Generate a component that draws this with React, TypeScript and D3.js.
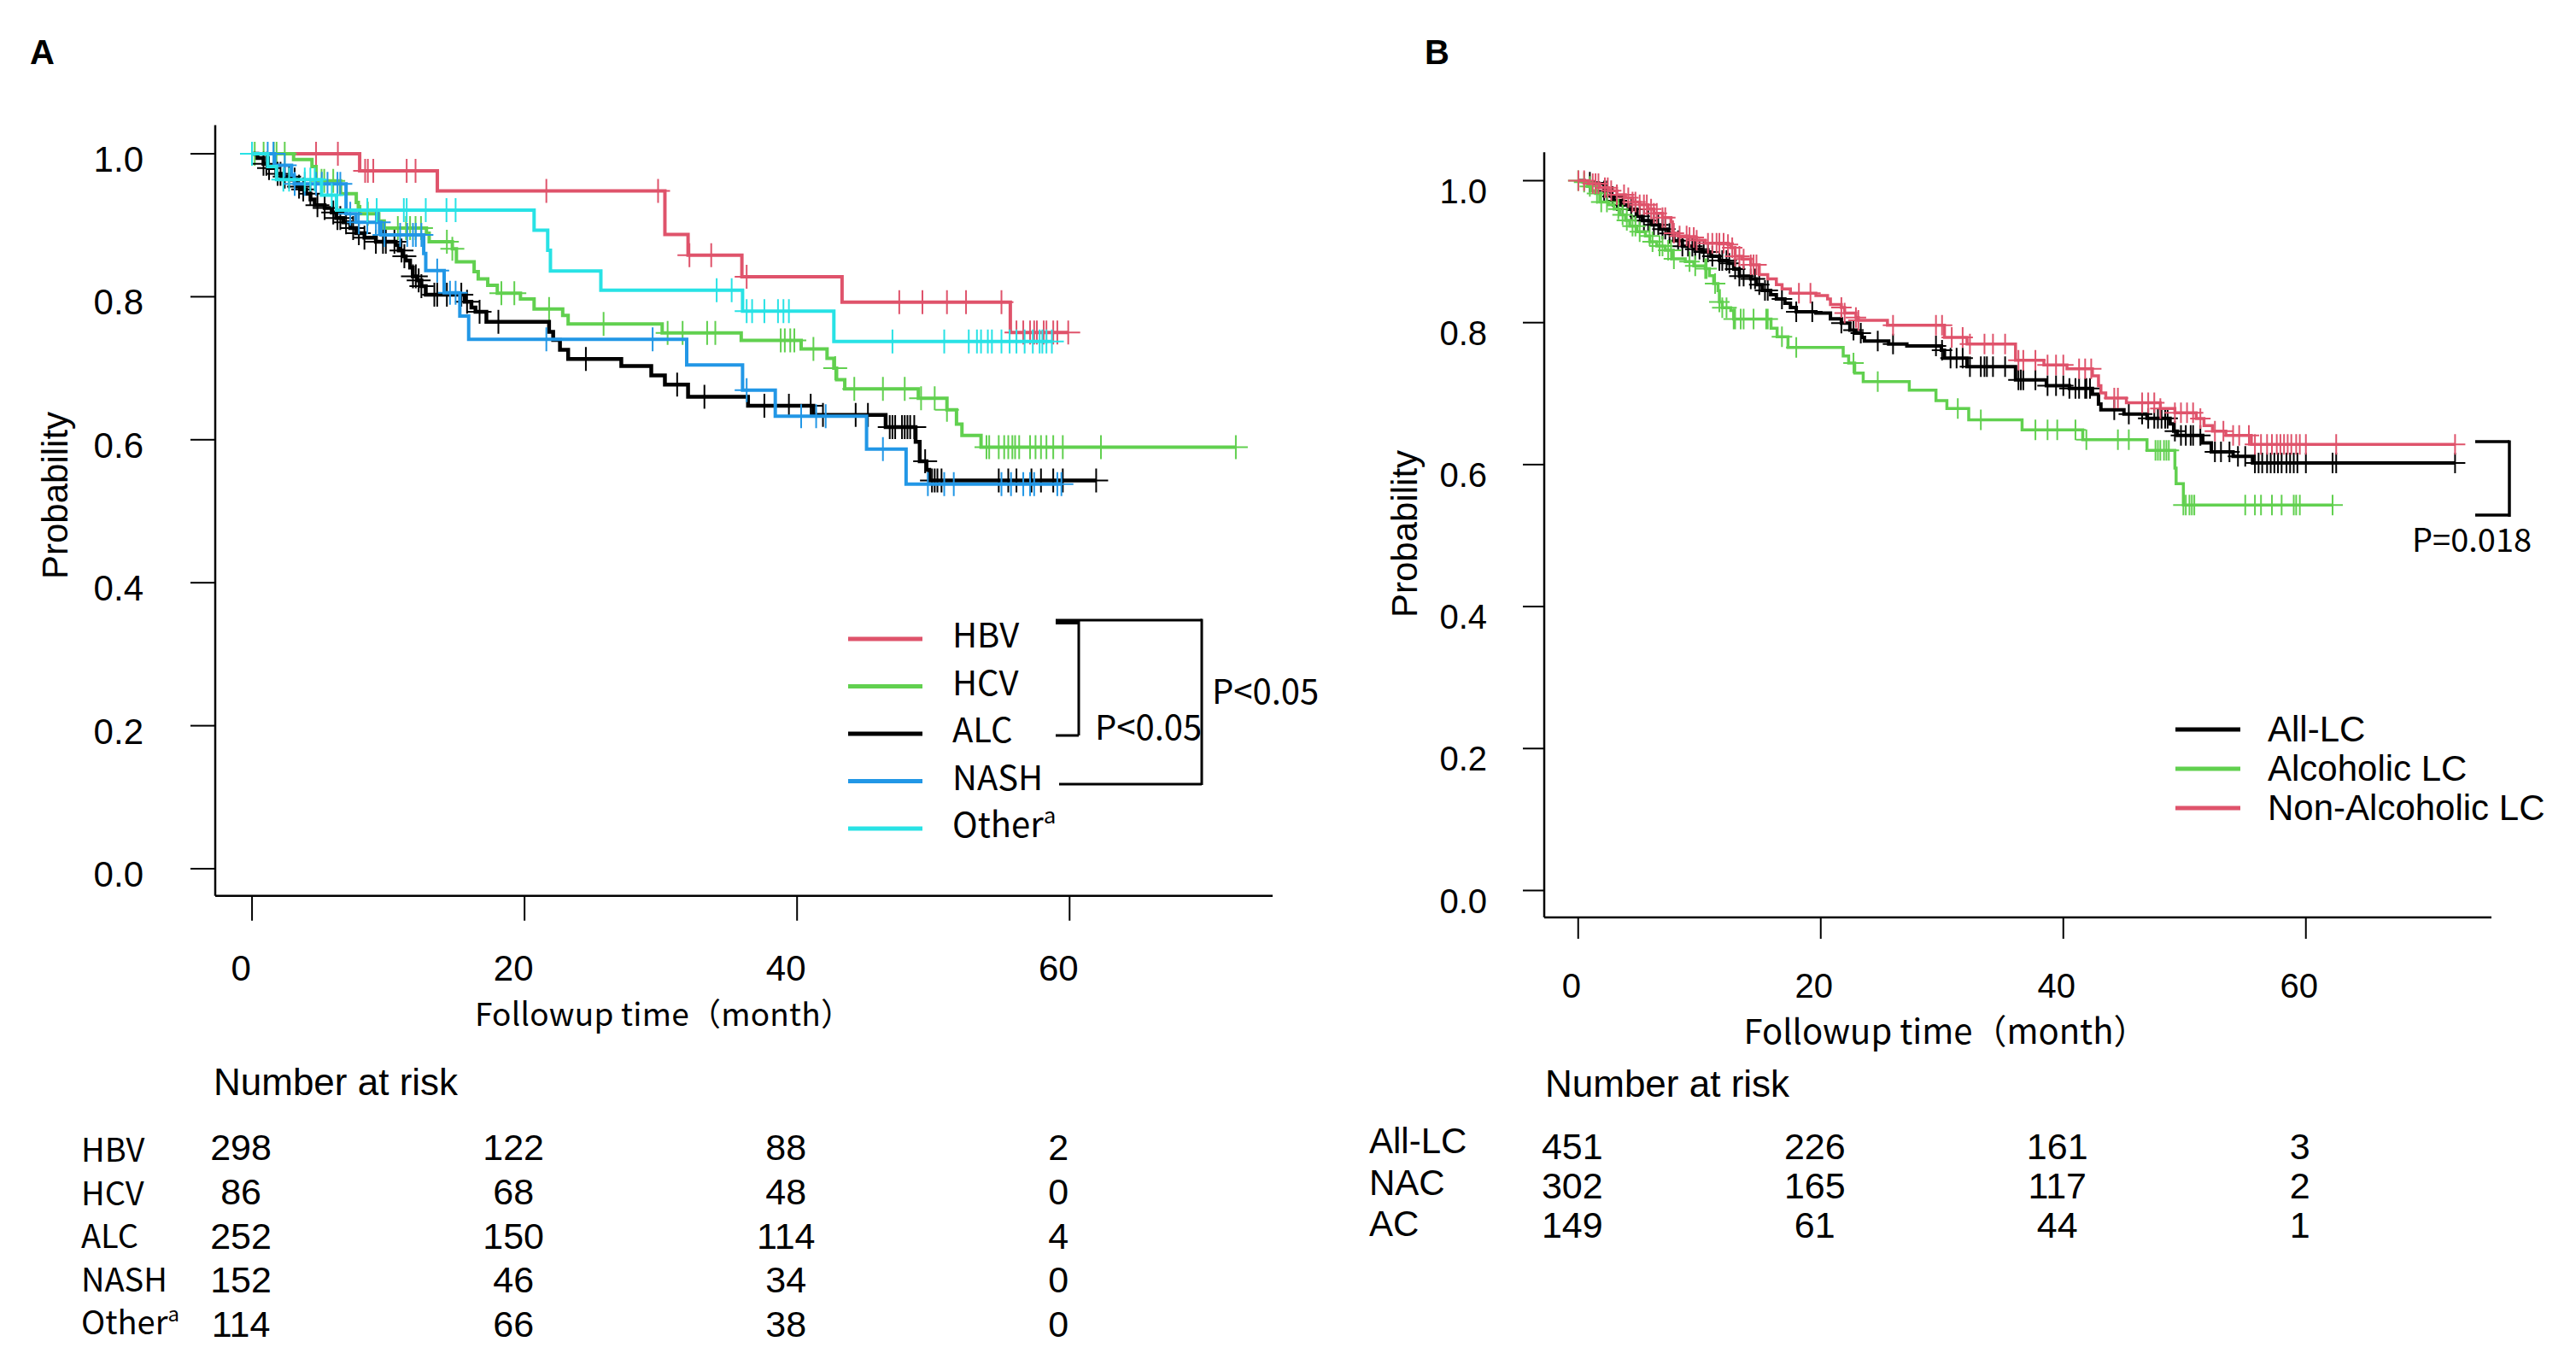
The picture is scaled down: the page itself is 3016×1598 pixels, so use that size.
import React from "react";
import * as d3 from "d3";

// ---- axis ticks ----
const monthTicks = [0, 20, 40, 60];
const probTicks = [0, 0.2, 0.4, 0.6, 0.8, 1.0];

// ---- Panel A: survival by etiology (event times, survival after each event, censor times) ----
const hbvTime = [0, 7.9, 13.6, 30.3, 32.0, 35.95, 43.3, 55.65];
const hbvSurv = [1, 0.976, 0.948, 0.887, 0.858, 0.828, 0.7925, 0.75];
const hbvCensor = [4.7, 6.3, 8.3, 8.5, 8.9, 11.35, 12.0, 21.6, 29.8, 32.1, 33.7, 36.3, 47.5, 49.2, 51.0, 52.4, 55.0, 56.1, 56.6, 57.1, 57.4, 57.6, 58.1, 58.3, 58.8, 59.1, 59.9];

const hcvTime = [0, 3.05, 4.4, 4.7, 6.5, 7.65, 7.8, 7.9, 9.3, 9.7, 12.8, 13.0, 14.7, 15.0, 16.3, 16.6, 17.3, 18.0, 19.7, 20.7, 22.8, 23.2, 30.1, 35.9, 40.3, 42.2, 42.7, 42.9, 43.5, 48.9, 51.0, 51.7, 52.1, 53.5];
const hcvSurv = [1, 0.992, 0.982, 0.962, 0.944, 0.932, 0.926, 0.916, 0.906, 0.896, 0.889, 0.877, 0.867, 0.849, 0.835, 0.825, 0.816, 0.805, 0.797, 0.783, 0.774, 0.762, 0.7495, 0.739, 0.727, 0.714, 0.7, 0.684, 0.671, 0.658, 0.642, 0.622, 0.606, 0.5895];
const hcvCensor = [0.2, 0.85, 1.6, 1.8, 2.4, 5.1, 5.3, 5.96, 8.5, 10.7, 11.3, 11.6, 12.0, 12.4, 14.3, 14.7, 18.3, 19.25, 21.8, 25.8, 30.5, 31.6, 33.4, 34.0, 38.8, 39.1, 39.5, 39.8, 41.2, 42.8, 44.2, 46.3, 47.9, 49.1, 50.1, 51.0, 53.9, 54.1, 54.8, 55.2, 55.5, 55.8, 56.0, 56.3, 57.1, 57.5, 57.9, 58.3, 58.8, 59.5, 62.3, 72.2];

const alcTime = [0, 0.4, 0.84, 1.15, 1.78, 2.19, 2.93, 3.24, 3.55, 3.97, 4.29, 4.6, 5.33, 5.85, 6.17, 6.69, 7.21, 7.63, 8.25, 9.09, 10.55, 10.76, 11.08, 11.28, 11.6, 11.8, 12.12, 12.43, 12.75, 15.6, 16.1, 16.4, 17.2, 21.8, 22.1, 22.6, 23.2, 27.1, 29.3, 30.3, 32.0, 36.4, 41.2, 46.5, 48.7, 49.0, 49.5, 49.7];
const alcSurv = [1, 0.994, 0.986, 0.98, 0.972, 0.968, 0.964, 0.954, 0.95, 0.944, 0.936, 0.928, 0.924, 0.918, 0.91, 0.904, 0.896, 0.889, 0.8825, 0.877, 0.8725, 0.8646, 0.8566, 0.8506, 0.8407, 0.8287, 0.8228, 0.8148, 0.8028, 0.7929, 0.785, 0.779, 0.765, 0.751, 0.7395, 0.7258, 0.713, 0.703, 0.69, 0.677, 0.66, 0.6475, 0.6347, 0.6178, 0.597, 0.57, 0.558, 0.543];
const alcCensor = [0.84, 1.05, 1.25, 1.88, 2.09, 2.4, 2.72, 3.13, 3.45, 3.76, 4.28, 4.8, 5.33, 5.96, 6.27, 6.48, 6.9, 7.42, 7.84, 8.25, 9.09, 9.61, 9.82, 10.45, 10.97, 11.18, 11.81, 12.02, 12.23, 12.43, 13.38, 13.59, 14.3, 15.36, 15.78, 16.7, 18.08, 24.5, 31.2, 33.2, 37.6, 39.4, 41.0, 41.9, 44.3, 45.2, 46.8, 47.0, 47.2, 47.7, 47.9, 48.1, 48.3, 48.6, 49.4, 49.9, 50.1, 50.3, 50.6, 54.8, 55.5, 56.1, 57.2, 57.9, 58.8, 59.5, 61.95];

const nashTime = [0, 1.67, 2.9, 3.1, 6.9, 7.63, 9.46, 12.6, 12.75, 14.1, 15.25, 15.9, 31.9, 36.0, 38.4, 45.1, 48.0];
const nashSurv = [1, 0.984, 0.97, 0.958, 0.916, 0.904, 0.8865, 0.8606, 0.8367, 0.8056, 0.773, 0.7404, 0.7047, 0.6694, 0.6328, 0.587, 0.5378];
const nashCensor = [0.0, 1.15, 1.57, 2.4, 3.13, 3.87, 4.7, 5.12, 5.54, 6.27, 6.48, 7.21, 7.84, 8.46, 9.09, 9.3, 9.72, 10.87, 11.39, 11.81, 12.02, 12.43, 13.59, 14.53, 14.94, 21.6, 29.4, 36.3, 40.3, 41.4, 42.1, 46.3, 49.6, 50.8, 51.5, 55.0, 55.7, 56.6, 57.1, 57.4, 59.1, 59.4];

const otherTime = [0, 1.15, 1.8, 5.1, 6.2, 20.7, 21.7, 21.9, 25.6, 36.0, 42.7];
const otherSurv = [1, 0.982, 0.964, 0.942, 0.921, 0.893, 0.865, 0.836, 0.809, 0.78, 0.7375];
const otherCensor = [0.0, 2.3, 2.72, 3.87, 4.28, 4.6, 5.85, 8.46, 9.15, 11.14, 11.35, 12.75, 14.27, 14.94, 34.1, 35.2, 36.3, 36.7, 37.6, 38.6, 39.0, 39.4, 47.0, 50.8, 52.6, 53.2, 53.5, 54.0, 54.3, 55.0, 55.6, 56.1, 56.7, 57.3, 57.8, 58.0, 58.3, 58.7];

// ---- Panel B: alcoholic vs non-alcoholic cirrhosis ----
const allTime = [0, 0.5, 1.31, 2.14, 2.72, 2.96, 3.54, 4.13, 4.84, 5.3, 6.01, 6.71, 7.42, 7.89, 8.59, 9.53, 10.23, 10.94, 11.64, 12.35, 12.82, 13.29, 14.23, 14.7, 15.17, 15.87, 16.34, 17.04, 17.5, 17.98, 19.6, 20.8, 21.7, 22.4, 22.9, 23.4, 23.6, 25.6, 27.1, 29.95, 30.2, 32.06, 36.06, 38.6, 40.5, 42.4, 42.9, 43.1, 45.0, 46.9, 48.8, 49.1, 49.4, 51.5, 52.2, 54.0, 55.6];
const allSurv = [1, 0.998, 0.9957, 0.9857, 0.9777, 0.9717, 0.9657, 0.9597, 0.9497, 0.9437, 0.9376, 0.9316, 0.9256, 0.9156, 0.9075, 0.9035, 0.8995, 0.8935, 0.8875, 0.8835, 0.8755, 0.8655, 0.8615, 0.8534, 0.8454, 0.8394, 0.8334, 0.8274, 0.8214, 0.8154, 0.8134, 0.8053, 0.7993, 0.7893, 0.7853, 0.7793, 0.7741, 0.77, 0.7672, 0.7612, 0.7501, 0.738, 0.7193, 0.7113, 0.7073, 0.6993, 0.6853, 0.6773, 0.6713, 0.6653, 0.6573, 0.6472, 0.641, 0.6307, 0.618, 0.6117, 0.6024];
const allCensor = [0.96, 2.14, 2.37, 2.84, 3.19, 3.66, 4.37, 4.72, 5.07, 5.42, 5.77, 6.24, 6.6, 6.95, 7.18, 7.53, 8.24, 8.59, 9.06, 9.41, 9.65, 10.0, 10.35, 10.7, 11.06, 11.64, 11.88, 12.23, 12.46, 12.94, 13.29, 13.64, 14.23, 14.58, 14.93, 15.4, 15.63, 16.8, 17.98, 19.3, 21.7, 22.7, 23.3, 24.7, 25.96, 29.5, 30.0, 30.7, 31.2, 31.7, 32.3, 33.2, 33.5, 33.7, 34.2, 35.2, 36.3, 36.5, 36.7, 37.7, 38.7, 39.4, 40.0, 40.5, 41.0, 41.3, 41.8, 41.9, 42.2, 44.2, 45.4, 46.5, 47.0, 47.5, 47.8, 48.1, 48.4, 48.6, 49.2, 49.7, 50.1, 50.5, 50.7, 51.3, 52.5, 53.0, 53.7, 54.4, 55.0, 55.8, 56.1, 56.4, 56.8, 57.1, 57.4, 57.7, 58.0, 58.4, 58.7, 59.0, 59.3, 60.0, 62.2, 62.5, 72.3];

const alcoTime = [0, 0.38, 0.73, 1.08, 1.43, 1.78, 2.49, 2.96, 3.43, 3.9, 4.25, 4.84, 5.54, 5.9, 6.48, 7.18, 7.77, 8.83, 9.53, 10.47, 10.82, 11.17, 11.53, 11.64, 11.88, 12.58, 12.82, 15.9, 16.4, 17.3, 21.85, 22.3, 22.8, 23.5, 27.3, 29.5, 30.4, 32.2, 36.6, 41.6, 46.9, 49.2, 49.3, 49.9];
const alcoSurv = [1, 0.998, 0.992, 0.986, 0.982, 0.97, 0.966, 0.96, 0.952, 0.944, 0.936, 0.928, 0.922, 0.914, 0.908, 0.902, 0.89, 0.886, 0.88, 0.876, 0.866, 0.855, 0.845, 0.829, 0.821, 0.817, 0.805, 0.792, 0.78, 0.765, 0.753, 0.743, 0.729, 0.717, 0.705, 0.69, 0.679, 0.663, 0.649, 0.635, 0.62, 0.595, 0.573, 0.543];
const alcoCensor = [0.0, 0.49, 0.96, 1.55, 1.9, 2.37, 3.31, 3.66, 4.01, 4.48, 4.72, 5.07, 5.89, 6.13, 6.71, 6.95, 7.42, 7.65, 7.89, 9.18, 9.65, 10.47, 10.59, 11.29, 11.64, 11.88, 12.23, 12.82, 12.94, 13.4, 13.64, 14.46, 15.5, 15.63, 16.8, 17.98, 22.7, 24.7, 31.3, 33.2, 37.7, 38.7, 39.5, 41.0, 41.9, 44.5, 45.4, 47.6, 47.8, 48.0, 48.3, 48.5, 48.7, 49.9, 50.1, 50.4, 50.6, 50.8, 55.0, 55.8, 56.3, 57.2, 58.0, 59.0, 59.2, 59.5, 62.2];

const nonAlcoTime = [0, 0.85, 1.78, 2.49, 3.19, 3.9, 4.48, 5.07, 5.77, 6.24, 6.95, 7.65, 7.77, 8.24, 9.06, 9.77, 10.47, 12.35, 12.58, 12.94, 13.52, 14.23, 14.93, 15.63, 16.34, 16.81, 17.5, 19.6, 20.56, 20.8, 21.7, 21.97, 22.9, 23.1, 25.5, 30.2, 32.06, 36.06, 38.4, 40.3, 42.4, 42.9, 43.1, 43.5, 45.2, 48.0, 49.2, 50.96, 51.6, 52.3, 53.4, 55.5];
const nonAlcoSurv = [1, 0.9957, 0.99, 0.986, 0.98, 0.976, 0.97, 0.966, 0.96, 0.954, 0.948, 0.942, 0.926, 0.922, 0.92, 0.916, 0.912, 0.91, 0.9055, 0.8935, 0.8895, 0.8815, 0.8675, 0.8615, 0.8534, 0.8474, 0.8414, 0.8382, 0.8334, 0.8254, 0.8214, 0.8134, 0.8073, 0.8033, 0.7964, 0.7792, 0.77, 0.7471, 0.7403, 0.7351, 0.7251, 0.7111, 0.7011, 0.6938, 0.687, 0.679, 0.673, 0.665, 0.655, 0.647, 0.641, 0.6285];
const nonAlcoCensor = [0.02, 0.49, 1.2, 1.43, 1.67, 2.2, 2.44, 2.72, 3.19, 3.78, 4.13, 4.48, 4.72, 5.07, 5.42, 5.66, 6.01, 6.24, 6.48, 6.95, 7.18, 7.89, 8.36, 8.94, 9.18, 9.53, 9.77, 10.7, 11.06, 11.41, 11.64, 11.99, 12.35, 12.7, 12.94, 13.29, 13.64, 14.23, 14.46, 14.7, 18.2, 19.15, 21.7, 21.97, 22.9, 23.1, 25.96, 29.5, 30.0, 30.8, 31.7, 32.3, 33.5, 34.2, 35.2, 36.3, 36.7, 37.7, 38.7, 39.4, 40.0, 41.3, 41.8, 42.3, 44.2, 44.5, 46.5, 47.0, 47.5, 48.0, 49.2, 49.7, 50.2, 50.7, 51.3, 52.5, 53.2, 54.0, 54.5, 55.3, 55.8, 56.3, 56.8, 57.2, 57.6, 57.9, 58.2, 58.5, 58.8, 59.2, 59.5, 60.0, 62.5, 72.3];

// ---- legends and number-at-risk tables ----
const legendA = ["HBV", "HCV", "ALC", "NASH", "Other"];
const riskLabelsA = ["HBV", "HCV", "ALC", "NASH", "Other"];
const riskCountsA = [
  [298, 122, 88, 2],
  [86, 68, 48, 0],
  [252, 150, 114, 4],
  [152, 46, 34, 0],
  [114, 66, 38, 0],
];
const legendB = ["All-LC", "Alcoholic LC", "Non-Alcoholic LC"];
const riskLabelsB = ["All-LC", "NAC", "AC"];
const riskCountsB = [
  [451, 226, 161, 3],
  [302, 165, 117, 2],
  [149, 61, 44, 1],
];

const COL = {
  black: "#000000",
  red: "#DF536B",
  green: "#61D04F",
  blue: "#2297E6",
  cyan: "#28E2E5",
};

const seriesA = [
  { name: "HBV", time: hbvTime, surv: hbvSurv, censor: hbvCensor, color: COL.red, width: 4 },
  { name: "HCV", time: hcvTime, surv: hcvSurv, censor: hcvCensor, color: COL.green, width: 4 },
  { name: "ALC", time: alcTime, surv: alcSurv, censor: alcCensor, color: COL.black, width: 4.5 },
  { name: "NASH", time: nashTime, surv: nashSurv, censor: nashCensor, color: COL.blue, width: 4 },
  { name: "Other", time: otherTime, surv: otherSurv, censor: otherCensor, color: COL.cyan, width: 4 },
];
const seriesB = [
  { name: "All-LC", time: allTime, surv: allSurv, censor: allCensor, color: COL.black, width: 4 },
  { name: "Alcoholic LC", time: alcoTime, surv: alcoSurv, censor: alcoCensor, color: COL.green, width: 3.5 },
  { name: "Non-Alcoholic LC", time: nonAlcoTime, surv: nonAlcoSurv, censor: nonAlcoCensor, color: COL.red, width: 3.5 },
];
const legendColorsA = [COL.red, COL.green, COL.black, COL.blue, COL.cyan];
const legendColorsB = [COL.black, COL.green, COL.red];

const ARIAL = "'Liberation Sans', Arial, Helvetica, sans-serif";
const CJK = "'Noto Sans CJK JP', 'Noto Sans', sans-serif";

type Series = { name: string; time: number[]; surv: number[]; censor: number[]; color: string; width: number };

function stepPath(s: Series, x: d3.ScaleLinear<number, number>, y: d3.ScaleLinear<number, number>) {
  const pts: [number, number][] = s.time.map((t, i) => [x(t), y(s.surv[i])]);
  const end = Math.max(d3.max(s.censor) ?? 0, s.time[s.time.length - 1]);
  pts.push([x(end), y(s.surv[s.surv.length - 1])]);
  return d3.line().curve(d3.curveStepAfter)(pts) ?? "";
}

function censorPath(s: Series, x: d3.ScaleLinear<number, number>, y: d3.ScaleLinear<number, number>, h: number) {
  return s.censor
    .map((c) => {
      const idx = Math.max(0, d3.bisectRight(s.time, c) - 1);
      const cx = x(c);
      const cy = y(s.surv[idx]);
      return `M${cx - h},${cy}H${cx + h}M${cx},${cy - h}V${cy + h}`;
    })
    .join("");
}

type PanelProps = {
  x: d3.ScaleLinear<number, number>;
  y: d3.ScaleLinear<number, number>;
  series: Series[];
  tick: number;
  tickFont: number;
  yLabelDx: number;
  yLabelDy: number;
  xLabelDx: number;
  xLabelBase: number;
  markHalf: number;
};

function Panel({ x, y, series, tick, tickFont, yLabelDx, yLabelDy, xLabelDx, xLabelBase, markHalf }: PanelProps) {
  const x0 = x.range()[0];
  const x1 = x.range()[1];
  const yTop = y(1.04);
  const yBot = y(-0.038);
  return (
    <g>
      {/* axes */}
      <line x1={x0} x2={x0} y1={yTop} y2={yBot} stroke="#000" strokeWidth={2.5} />
      <line x1={x0} x2={x1} y1={yBot} y2={yBot} stroke="#000" strokeWidth={2.5} />
      {probTicks.map((v) => (
        <g key={"y" + v}>
          <line x1={x0 - tick} x2={x0} y1={y(v)} y2={y(v)} stroke="#000" strokeWidth={2} />
          <text x={x0 - yLabelDx} y={y(v) + yLabelDy} textAnchor="end" fontFamily={ARIAL} fontSize={tickFont}>
            {v.toFixed(1)}
          </text>
        </g>
      ))}
      {monthTicks.map((t) => (
        <g key={"x" + t}>
          <line x1={x(t)} x2={x(t)} y1={yBot} y2={yBot + tick} stroke="#000" strokeWidth={2} />
          <text x={x(t) + xLabelDx} y={xLabelBase} textAnchor="middle" fontFamily={ARIAL} fontSize={tickFont}>
            {t}
          </text>
        </g>
      ))}
      {/* survival curves with censoring marks */}
      {series.map((s) => (
        <g key={s.name}>
          <path d={stepPath(s, x, y)} fill="none" stroke={s.color} strokeWidth={s.width} strokeLinejoin="miter" />
          <path d={censorPath(s, x, y, markHalf)} fill="none" stroke={s.color} strokeWidth={2} />
        </g>
      ))}
    </g>
  );
}

export default function App() {
  // Panel A scales
  const xA = d3.scaleLinear().domain([-2.7, 74.9]).range([252, 1490]);
  const yA = d3.scaleLinear().domain([0, 1]).range([1017, 180]);
  // Panel B scales
  const xB = d3.scaleLinear().domain([-2.8, 75.3]).range([1808, 2917]);
  const yB = d3.scaleLinear().domain([0, 1]).range([1042.5, 211.5]);

  const legendStepA = 55.5;
  const legendStepB = 46;

  return (
    <svg
      width={3016}
      height={1598}
      viewBox="0 0 3016 1598"
      style={{ position: "absolute", left: 0, top: 0, background: "#fff", display: "block" }}
    >
      <rect x={0} y={0} width={3016} height={1598} fill="#fff" />

      {/* panel letters */}
      <text x={35} y={75} fontFamily={ARIAL} fontWeight="bold" fontSize={40}>A</text>
      <text x={1668} y={75} fontFamily={ARIAL} fontWeight="bold" fontSize={40}>B</text>

      {/* ---------- Panel A ---------- */}
      <Panel x={xA} y={yA} series={seriesA} tick={29} tickFont={42} yLabelDx={84} yLabelDy={21}
        xLabelDx={-13} xLabelBase={1148} markHalf={14} />
      <text transform="translate(79,580) rotate(-90)" textAnchor="middle" fontFamily={ARIAL} fontSize={42}>
        Probability
      </text>
      <text x={777} y={1201} textAnchor="middle" fontFamily={CJK} fontSize={37} textLength={442}
        lengthAdjust="spacing">
        Followup time（month）
      </text>

      {/* legend A */}
      {legendA.map((name, i) => {
        const ly = 748 + i * legendStepA;
        return (
          <g key={name}>
            <line x1={993} x2={1080} y1={ly} y2={ly} stroke={legendColorsA[i]} strokeWidth={5} />
            <text x={1115} y={ly + 10} fontFamily={CJK} fontSize={40}>
              {name}
              {name === "Other" ? <tspan fontSize={26} dy={-16}>a</tspan> : null}
            </text>
          </g>
        );
      })}

      {/* significance brackets A */}
      <g stroke="#000" fill="none" strokeWidth={3}>
        <line x1={1236} x2={1407} y1={726} y2={726} />
        <line x1={1236} x2={1263} y1={728} y2={728} strokeWidth={6} />
        <line x1={1263} x2={1263} y1={726} y2={861} />
        <line x1={1236} x2={1263} y1={861} y2={861} />
        <line x1={1407} x2={1407} y1={724.5} y2={919} />
        <line x1={1240} x2={1407} y1={918} y2={918} />
      </g>
      <text x={1282} y={866} fontFamily={CJK} fontSize={40}>P&lt;0.05</text>
      <text x={1419} y={824} fontFamily={CJK} fontSize={40}>P&lt;0.05</text>

      {/* number at risk A */}
      <text x={250} y={1282} fontFamily={ARIAL} fontSize={44}>Number at risk</text>
      {riskLabelsA.map((name, i) => (
        <text key={name} x={95} y={1360 + i * 50.5} fontFamily={CJK} fontSize={38}>
          {name}
          {name === "Other" ? <tspan fontSize={24} dy={-15}>a</tspan> : null}
        </text>
      ))}
      {riskCountsA.map((row, i) =>
        row.map((n, j) => (
          <text key={`a${i}-${j}`} x={xA(monthTicks[j]) - 13} y={1358 + i * 51.8} textAnchor="middle"
            fontFamily={ARIAL} fontSize={43}>
            {n}
          </text>
        ))
      )}

      {/* ---------- Panel B ---------- */}
      <Panel x={xB} y={yB} series={seriesB} tick={25} tickFont={40} yLabelDx={67} yLabelDy={26}
        xLabelDx={-8} xLabelBase={1168} markHalf={12} />
      <text transform="translate(1659,625) rotate(-90)" textAnchor="middle" fontFamily={ARIAL} fontSize={42}>
        Probability
      </text>
      <text x={2278} y={1222} textAnchor="middle" fontFamily={CJK} fontSize={40}>
        Followup time（month）
      </text>

      {/* legend B */}
      {legendB.map((name, i) => {
        const ly = 854 + i * legendStepB;
        return (
          <g key={name}>
            <line x1={2547} x2={2623} y1={ly} y2={ly} stroke={legendColorsB[i]} strokeWidth={5} />
            <text x={2655} y={ly + 14} fontFamily={ARIAL} fontSize={42}>{name}</text>
          </g>
        );
      })}

      {/* significance bracket B */}
      <g stroke="#000" fill="none" strokeWidth={3.5}>
        <line x1={2898} x2={2938} y1={517} y2={517} />
        <line x1={2938} x2={2938} y1={515.5} y2={605} />
        <line x1={2898} x2={2938} y1={603} y2={603} />
      </g>
      <text x={2824} y={646} fontFamily={CJK} fontSize={38}>P=0.018</text>

      {/* number at risk B */}
      <text x={1809} y={1284} fontFamily={ARIAL} fontSize={44}>Number at risk</text>
      {riskLabelsB.map((name, i) => (
        <text key={name} x={1603} y={1350 + i * 48.5} fontFamily={ARIAL} fontSize={42}>{name}</text>
      ))}
      {riskCountsB.map((row, i) =>
        row.map((n, j) => (
          <text key={`b${i}-${j}`} x={xB(monthTicks[j]) - 7} y={1357 + i * 46} textAnchor="middle"
            fontFamily={ARIAL} fontSize={43}>
            {n}
          </text>
        ))
      )}
    </svg>
  );
}
